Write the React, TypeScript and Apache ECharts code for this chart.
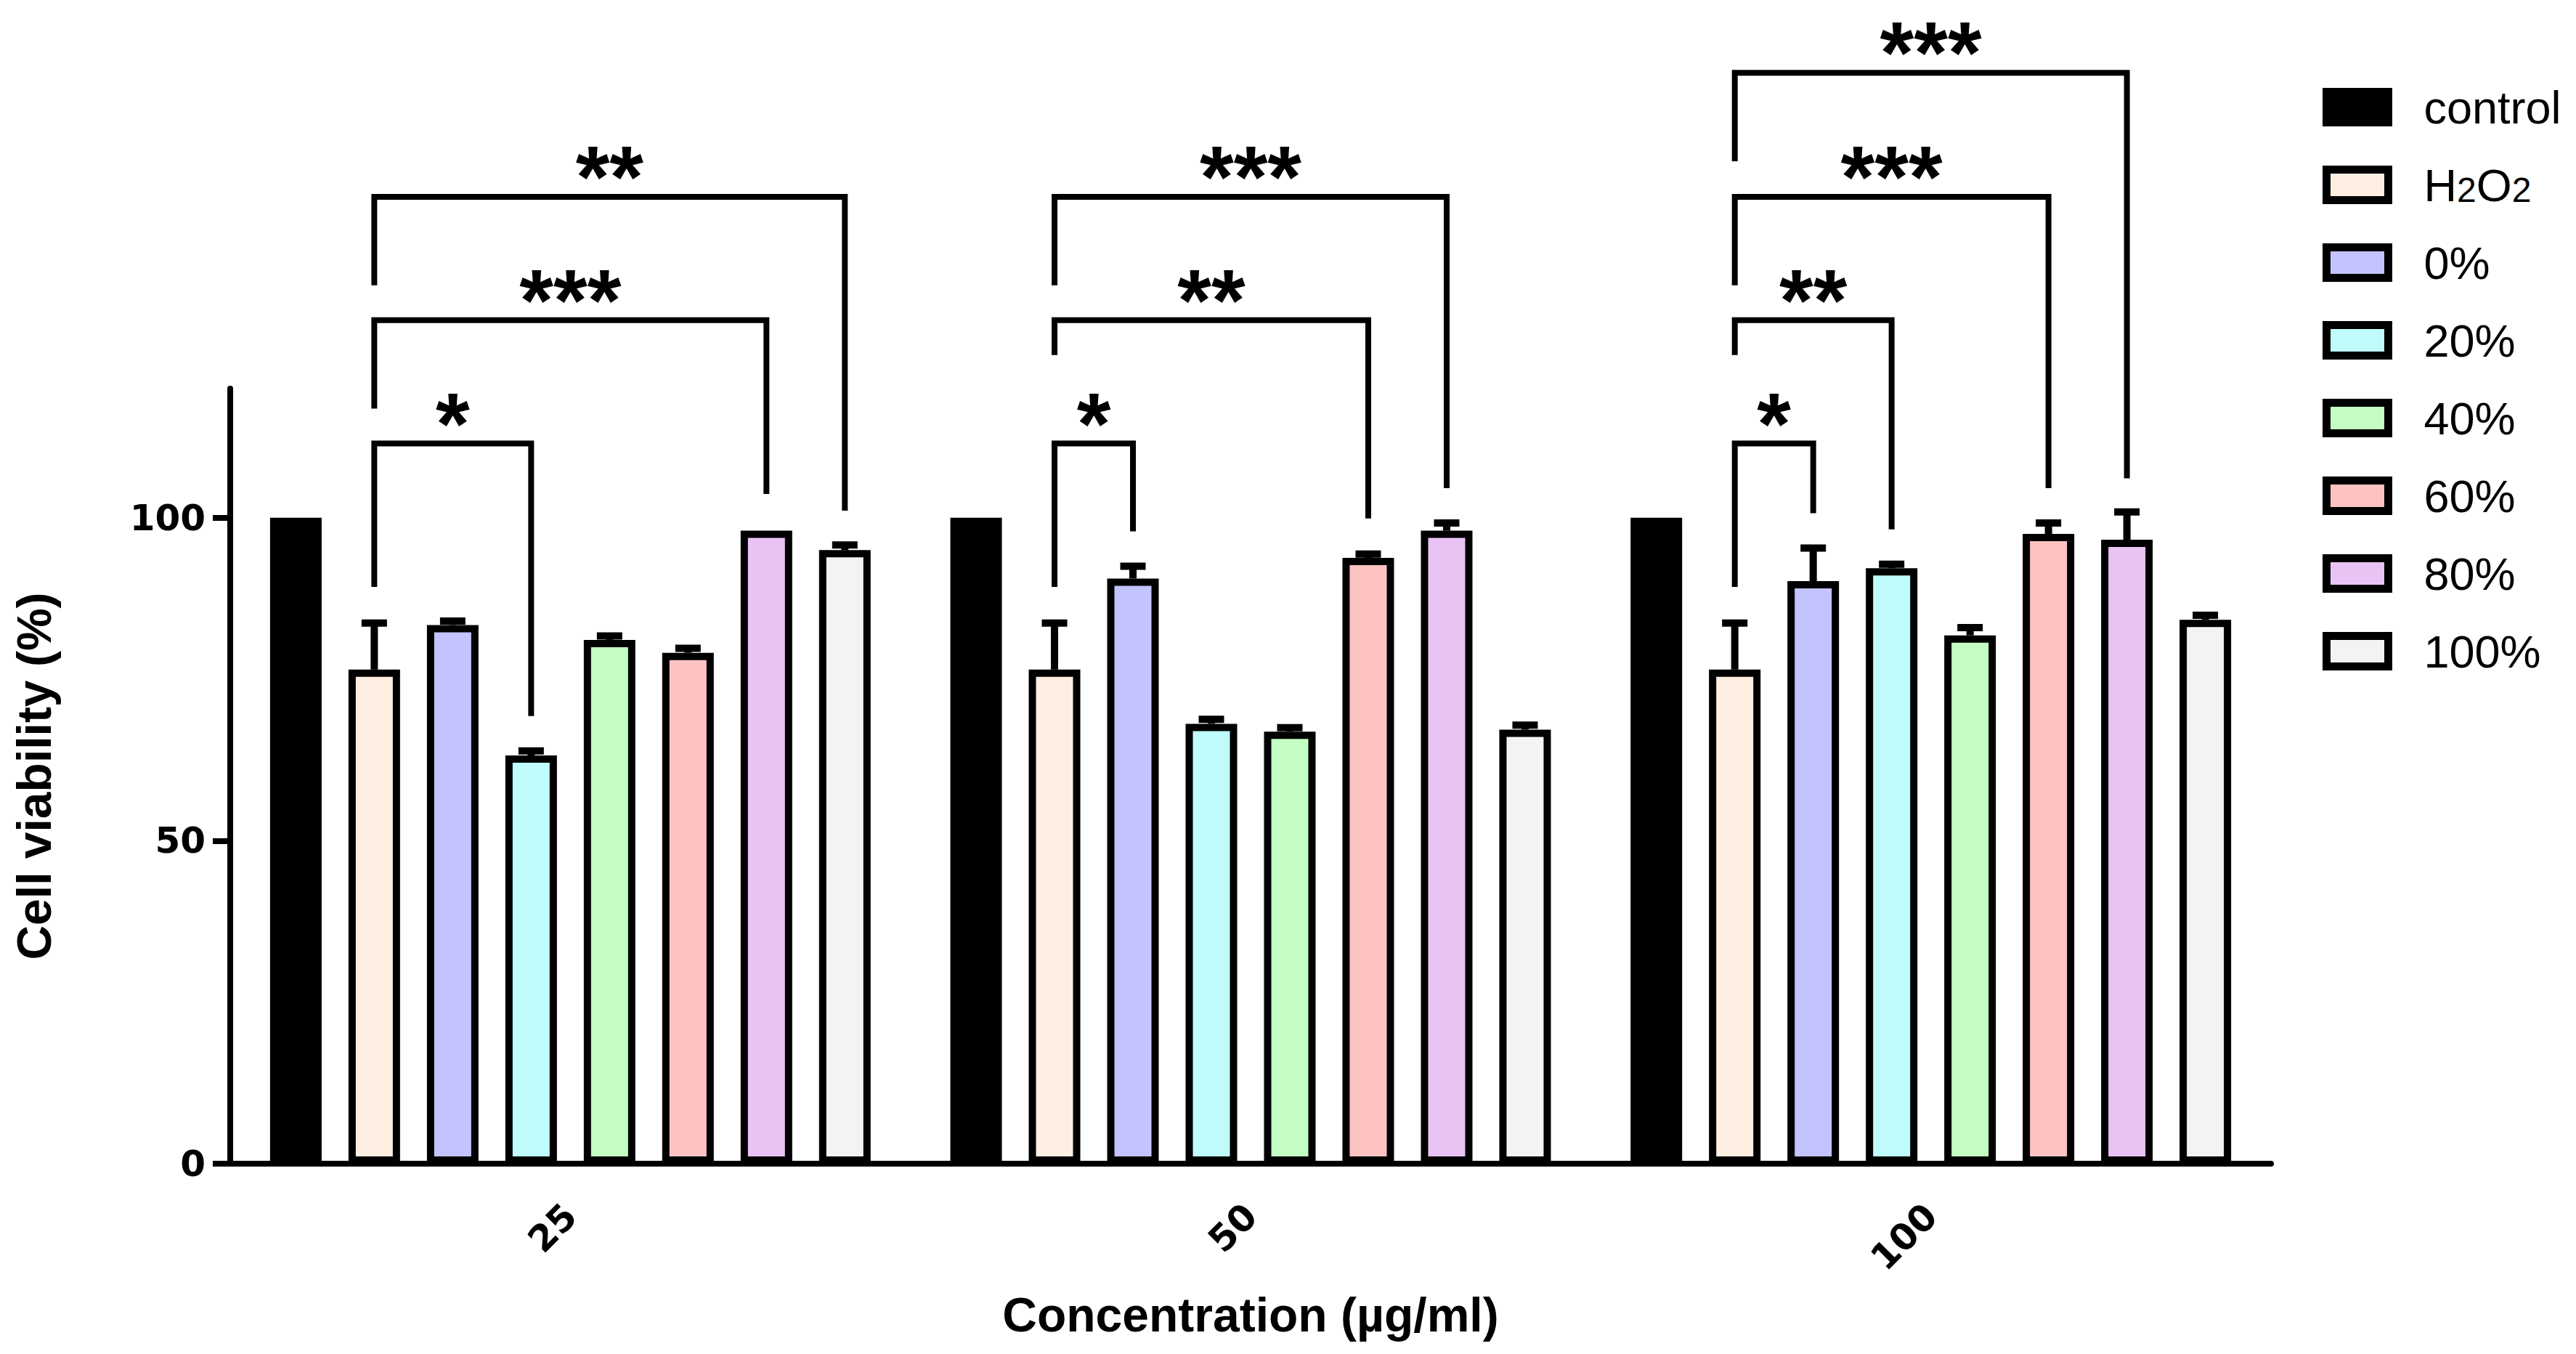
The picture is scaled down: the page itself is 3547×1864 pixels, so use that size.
import React, { useEffect, useRef } from 'react';
import * as echarts from 'echarts';

// ---------------- data ----------------
const categories = ['25', '50', '100'];
const seriesNames = ['control', 'H2O2', '0%', '20%', '40%', '60%', '80%', '100%'];
const seriesColors = ['#000000', '#FDEFE1', '#C3C3FD', '#C0FCFC', '#C3FDC3', '#FDC3C3', '#EAC3F5', '#F3F3F3'];

const controlMean = [100, 100, 100];
const h2o2Mean = [76.5, 76.5, 76.5];
const pct0Mean = [83.4, 90.6, 90.2];
const pct20Mean = [63.2, 68.1, 92.2];
const pct40Mean = [81.1, 66.9, 81.8];
const pct60Mean = [79.1, 93.8, 97.5];
const pct80Mean = [98.0, 98.0, 96.6];
const pct100Mean = [95.0, 67.2, 84.2];

const controlErr = [0, 0, 0];
const h2o2Err = [7.2, 7.2, 7.2];
const pct0Err = [0.6, 1.9, 5.1];
const pct20Err = [0.7, 0.7, 0.6];
const pct40Err = [0.6, 0.6, 1.2];
const pct60Err = [0.7, 0.6, 1.7];
const pct80Err = [0, 1.2, 4.3];
const pct100Err = [0.8, 0.7, 0.7];

const yTicks = [0, 50, 100];

// significance brackets: category, from-series, to-series, label, bracket level, leg ends (y values)
const brackets = [
  { cat: 0, from: 1, to: 3, label: '*', level: 111.5, fromEnd: 89.3, toEnd: 69.3 },
  { cat: 0, from: 1, to: 6, label: '***', level: 130.6, fromEnd: 116.9, toEnd: 103.7 },
  { cat: 0, from: 1, to: 7, label: '**', level: 149.7, fromEnd: 136.0, toEnd: 101.1 },
  { cat: 1, from: 1, to: 2, label: '*', level: 111.5, fromEnd: 89.3, toEnd: 97.9 },
  { cat: 1, from: 1, to: 5, label: '**', level: 130.6, fromEnd: 125.2, toEnd: 99.9 },
  { cat: 1, from: 1, to: 6, label: '***', level: 149.7, fromEnd: 136.0, toEnd: 104.6 },
  { cat: 2, from: 1, to: 2, label: '*', level: 111.5, fromEnd: 89.3, toEnd: 100.7 },
  { cat: 2, from: 1, to: 3, label: '**', level: 130.6, fromEnd: 125.2, toEnd: 98.2 },
  { cat: 2, from: 1, to: 5, label: '***', level: 149.7, fromEnd: 136.0, toEnd: 104.6 },
  { cat: 2, from: 1, to: 6, label: '***', level: 168.9, fromEnd: 155.2, toEnd: 106.1 },
];

const means = [controlMean, h2o2Mean, pct0Mean, pct20Mean, pct40Mean, pct60Mean, pct80Mean, pct100Mean];
const errs = [controlErr, h2o2Err, pct0Err, pct20Err, pct40Err, pct60Err, pct80Err, pct100Err];

// ---------------- style ----------------
const BAR_WIDTH = 71;
const BAR_GAP = 0.521;
const STRIDE = BAR_WIDTH * (1 + BAR_GAP);
const MID = (seriesNames.length - 1) / 2;
const FONT = '"Liberation Sans", Arial, Helvetica, sans-serif';
const TICK_FONT = '"DejaVu Sans", Verdana, sans-serif';

export default function App() {
  const ref = useRef<HTMLDivElement>(null);

  useEffect(() => {
    if (!ref.current) return;
    const chart = echarts.init(ref.current, undefined, { renderer: 'svg' });

    const barSeries = seriesNames.map((name, i) => ({
      type: 'bar',
      name,
      data: means[i],
      barWidth: BAR_WIDTH,
      barGap: `${(BAR_GAP * 100).toFixed(1)}%`,
      itemStyle: { color: seriesColors[i], borderColor: '#000', borderWidth: 10 },
      z: 2,
    }));

    const errData: number[][] = [];
    means.forEach((arr, s) => {
      arr.forEach((m, c) => {
        const e = errs[s][c];
        if (e > 0) errData.push([c, m + e, m, s]);
      });
    });

    const errorSeries = {
      type: 'custom',
      name: 'error',
      data: errData,
      encode: { x: 0, y: 1 },
      clip: false,
      z: 3,
      renderItem: (params: any, api: any) => {
        const c = api.value(0);
        const top = api.value(1);
        const m = api.value(2);
        const s = api.value(3);
        const pTop = api.coord([c, top]);
        const pM = api.coord([c, m]);
        const x = pTop[0] + (s - MID) * STRIDE;
        return {
          type: 'group',
          children: [
            { type: 'line', shape: { x1: x, y1: pM[1], x2: x, y2: pTop[1] }, style: { stroke: '#000', lineWidth: 10 } },
            { type: 'line', shape: { x1: x - 17.5, y1: pTop[1], x2: x + 17.5, y2: pTop[1] }, style: { stroke: '#000', lineWidth: 10 } },
          ],
        };
      },
    };

    const bracketSeries = {
      type: 'custom',
      name: 'significance',
      data: brackets.map((b) => [b.cat, b.level]),
      encode: { x: 0, y: 1 },
      clip: false,
      z: 4,
      renderItem: (params: any, api: any) => {
        const b = brackets[params.dataIndex];
        const base = api.coord([b.cat, b.level]);
        const xFrom = base[0] + (b.from - MID) * STRIDE;
        const xTo = base[0] + (b.to - MID) * STRIDE;
        const yLevel = base[1];
        const yFromEnd = api.coord([b.cat, b.fromEnd])[1];
        const yToEnd = api.coord([b.cat, b.toEnd])[1];
        return {
          type: 'group',
          children: [
            {
              type: 'polyline',
              shape: { points: [[xFrom, yFromEnd], [xFrom, yLevel], [xTo, yLevel], [xTo, yToEnd]] },
              style: { stroke: '#000', lineWidth: 8, fill: 'none', lineJoin: 'miter', lineCap: 'butt' },
            },
            {
              type: 'text',
              x: (xFrom + xTo) / 2,
              y: yLevel - 28,
              style: { text: b.label, fontSize: 120, fontWeight: 'bold', fontFamily: FONT, align: 'center', verticalAlign: 'middle', fill: '#000' },
            },
          ],
        };
      },
    };

    chart.setOption({
      animation: false,
      backgroundColor: '#ffffff',
      grid: { left: 317, top: 535, width: 2810, height: 1067, containLabel: false },
      legend: {
        data: seriesNames,
        orient: 'vertical',
        left: 3198,
        top: 116,
        padding: 0,
        itemWidth: 85,
        itemHeight: 42,
        itemGap: 44,
        icon: 'rect',
        itemStyle: { borderColor: '#000', borderWidth: 11 },
        formatter: (name: string) => (name === 'H2O2' ? '{n|H}{s|2}{n|O}{s|2}' : `{n|${name}}`),
        textStyle: {
          fontFamily: FONT,
          fontSize: 63,
          color: '#000',
          padding: [0, 0, 0, 44],
          rich: {
            n: { fontFamily: FONT, fontSize: 63, lineHeight: 62, color: '#000' },
            s: { fontFamily: FONT, fontSize: 48, lineHeight: 24, verticalAlign: 'bottom', color: '#000' },
          },
        },
      },
      xAxis: {
        type: 'category',
        data: categories,
        name: 'Concentration (µg/ml)',
        nameLocation: 'middle',
        nameGap: 175,
        nameTextStyle: { fontFamily: FONT, fontSize: 66, fontWeight: 'bold', color: '#000' },
        axisLine: { lineStyle: { color: '#000', width: 8 } },
        axisTick: { alignWithLabel: true, length: 24, lineStyle: { color: '#000', width: 8 } },
        axisLabel: { rotate: 45, margin: 64, fontFamily: TICK_FONT, fontSize: 50, fontWeight: 'bold', color: '#000' },
        splitLine: { show: false },
      },
      yAxis: {
        type: 'value',
        min: 0,
        max: 120,
        interval: 50,
        name: 'Cell viability (%)',
        nameLocation: 'middle',
        nameGap: 237,
        nameTextStyle: { fontFamily: FONT, fontSize: 66, fontWeight: 'bold', color: '#000' },
        axisLine: { show: true, lineStyle: { color: '#000', width: 8 } },
        axisTick: { show: true, length: 24, customValues: yTicks, lineStyle: { color: '#000', width: 8 } },
        axisLabel: { margin: 34, customValues: yTicks, fontFamily: TICK_FONT, fontSize: 50, fontWeight: 'bold', color: '#000' },
        splitLine: { show: false },
      },
      series: [...barSeries, errorSeries, bracketSeries],
    });

    return () => chart.dispose();
  }, []);

  return (
    <div
      ref={ref}
      style={{ position: 'fixed', left: 0, top: 0, width: 3547, height: 1864, background: '#fff' }}
    />
  );
}
